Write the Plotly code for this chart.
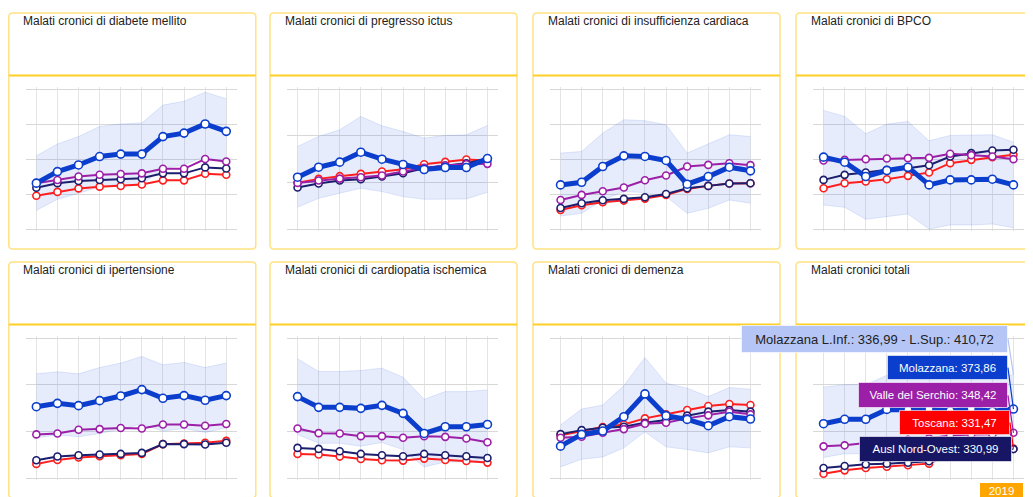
import plotly.graph_objects as go

# the page body keeps its default 8px margin, so the figure starts at (8, 8)
OX, OY = 8, 8
W, H = 1025, 489

years = [2010, 2011, 2012, 2013, 2014, 2015, 2016, 2017, 2018, 2019]

titles = [
    "Malati cronici di diabete mellito",
    "Malati cronici di pregresso ictus",
    "Malati cronici di insufficienza cardiaca",
    "Malati cronici di BPCO",
    "Malati cronici di ipertensione",
    "Malati cronici di cardiopatia ischemica",
    "Malati cronici di demenza",
    "Malati cronici totali",
]

series_names = ["Molazzana", "Valle del Serchio", "Toscana", "Ausl Nord-Ovest"]

# diabete mellito
diab_mol = [53.1, 56.4, 58.3, 60.7, 61.4, 61.4, 66.4, 67.4, 70.0, 67.9]
diab_vds = [53.1, 54.0, 55.0, 55.5, 55.7, 55.9, 57.2, 57.2, 60.0, 59.3]
diab_tos = [49.5, 50.6, 51.6, 52.1, 52.3, 52.7, 53.9, 53.9, 55.8, 55.5]
diab_ausl = [51.8, 53.1, 53.7, 54.0, 54.2, 54.5, 55.9, 55.9, 57.6, 57.3]
diab_inf = [45.3, 48.5, 50.2, 52.1, 52.8, 52.5, 57.5, 58.3, 60.8, 58.5]
diab_sup = [60.9, 64.3, 66.4, 69.3, 70.0, 70.3, 75.4, 76.5, 79.1, 77.2]

# pregresso ictus
ictus_mol = [15.55, 16.62, 17.16, 18.23, 17.48, 16.91, 16.37, 16.59, 16.59, 17.55]
ictus_vds = [14.94, 15.19, 15.40, 15.55, 15.73, 16.16, 16.55, 16.80, 16.94, 16.98]
ictus_tos = [14.97, 15.37, 15.66, 15.91, 16.16, 16.41, 16.94, 17.19, 17.45, 17.34]
ictus_ausl = [14.44, 14.87, 15.19, 15.33, 15.62, 15.98, 16.51, 16.80, 17.05, 17.52]
ictus_inf = [12.33, 13.29, 13.83, 14.37, 14.01, 13.47, 13.18, 13.18, 13.22, 13.94]
ictus_sup = [18.84, 19.92, 20.63, 22.06, 21.06, 20.45, 19.74, 20.02, 20.09, 21.10]

# insufficienza cardiaca
insuf_mol = [16.30, 16.68, 18.93, 20.45, 20.36, 19.79, 16.40, 17.49, 18.83, 18.31]
insuf_vds = [14.15, 14.87, 15.39, 15.92, 16.97, 17.64, 18.93, 19.16, 19.40, 19.12]
insuf_tos = [12.72, 13.39, 13.82, 14.06, 14.34, 14.87, 15.73, 16.16, 16.49, 16.54]
insuf_ausl = [13.01, 13.68, 14.11, 14.30, 14.53, 15.01, 15.82, 16.16, 16.49, 16.54]
insuf_inf = [11.86, 12.24, 14.15, 15.35, 15.20, 14.63, 12.24, 12.96, 14.15, 13.68]
insuf_sup = [20.84, 21.07, 23.70, 25.61, 25.47, 24.89, 20.84, 22.12, 23.46, 23.22]

# BPCO
bpco_mol = [40.53, 39.09, 34.99, 36.71, 37.66, 32.60, 34.03, 34.03, 34.22, 32.60]
bpco_vds = [39.57, 39.76, 39.95, 40.14, 40.24, 40.33, 41.48, 41.10, 40.72, 39.95]
bpco_tos = [31.65, 33.08, 33.56, 34.22, 35.18, 36.13, 38.81, 39.76, 40.53, 41.19]
bpco_ausl = [34.03, 35.47, 36.13, 36.90, 37.37, 38.23, 40.72, 41.67, 42.43, 42.63]
bpco_inf = [26.87, 26.21, 22.77, 23.53, 24.30, 20.00, 21.15, 21.15, 21.43, 20.38]
bpco_sup = [53.89, 52.17, 47.21, 49.98, 50.74, 45.20, 46.73, 46.92, 46.92, 44.82]

# ipertensione
iper_mol = [226.4, 230.0, 227.5, 232.9, 237.9, 244.7, 235.4, 238.3, 233.3, 238.3]
iper_vds = [196.7, 197.7, 201.7, 202.4, 203.5, 203.1, 207.4, 207.4, 206.0, 207.8]
iper_tos = [165.1, 169.4, 171.9, 173.3, 174.4, 175.8, 186.3, 187.0, 187.7, 189.8]
iper_ausl = [169.0, 173.0, 174.4, 175.1, 175.8, 176.9, 186.3, 186.3, 185.9, 187.7]
iper_inf = [193.1, 196.1, 194.2, 197.7, 202.4, 207.8, 200.3, 203.1, 198.8, 203.8]
iper_sup = [261.6, 263.8, 261.6, 268.4, 273.1, 280.3, 271.3, 273.8, 268.4, 273.1]

# cardiopatia ischemica
card_mol = [37.44, 35.14, 35.14, 34.92, 35.57, 33.85, 29.54, 30.98, 30.98, 31.48]
card_vds = [30.62, 29.61, 29.54, 28.97, 28.97, 28.61, 28.97, 28.82, 28.46, 27.67]
card_tos = [25.16, 25.02, 24.59, 24.08, 23.80, 23.73, 24.16, 23.87, 23.65, 23.30]
card_ausl = [26.45, 26.24, 25.74, 25.16, 24.87, 24.66, 25.16, 24.87, 24.66, 24.30]
card_inf = [29.33, 27.46, 27.46, 26.81, 27.60, 26.09, 22.36, 23.44, 23.44, 24.08]
card_sup = [45.55, 42.82, 42.82, 43.04, 43.54, 41.60, 36.86, 38.51, 38.51, 38.87]

# demenza
dem_mol = [8.41, 9.67, 10.03, 11.57, 14.01, 11.68, 11.28, 10.60, 11.57, 11.32]
dem_vds = [9.31, 9.42, 9.85, 10.24, 10.81, 10.92, 11.39, 11.71, 12.11, 11.82]
dem_tos = [9.59, 10.06, 10.46, 10.74, 11.39, 11.82, 12.29, 12.72, 12.93, 12.82]
dem_ausl = [9.70, 10.13, 10.38, 10.49, 10.92, 11.21, 11.68, 12.11, 12.29, 12.11]
dem_inf = [6.19, 7.01, 7.26, 8.23, 9.95, 8.34, 8.05, 7.69, 8.34, 8.23]
dem_sup = [10.67, 12.39, 12.82, 14.90, 17.92, 15.16, 14.62, 13.72, 14.69, 14.51]

# totali
tot_mol = [358.2, 362.9, 362.9, 373.5, 373.0, 373.8, 372.0, 374.5, 371.5, 373.86]
tot_vds = [333.9, 335.0, 337.5, 339.5, 341.0, 342.5, 345.5, 346.5, 347.0, 348.42]
tot_tos = [304.6, 308.2, 310.7, 312.1, 313.6, 315.4, 325.0, 326.5, 328.5, 331.47]
tot_ausl = [310.7, 312.9, 314.6, 315.4, 316.4, 317.9, 325.5, 326.5, 327.5, 330.99]
tot_inf = [322.0, 326.0, 326.0, 337.0, 336.0, 337.0, 335.0, 338.0, 335.0, 336.99]
tot_sup = [397.5, 400.0, 400.0, 410.0, 410.0, 411.0, 409.0, 411.0, 408.0, 410.72]

panels = [
    (diab_mol, diab_vds, diab_tos, diab_ausl, diab_inf, diab_sup),
    (ictus_mol, ictus_vds, ictus_tos, ictus_ausl, ictus_inf, ictus_sup),
    (insuf_mol, insuf_vds, insuf_tos, insuf_ausl, insuf_inf, insuf_sup),
    (bpco_mol, bpco_vds, bpco_tos, bpco_ausl, bpco_inf, bpco_sup),
    (iper_mol, iper_vds, iper_tos, iper_ausl, iper_inf, iper_sup),
    (card_mol, card_vds, card_tos, card_ausl, card_inf, card_sup),
    (dem_mol, dem_vds, dem_tos, dem_ausl, dem_inf, dem_sup),
    (tot_mol, tot_vds, tot_tos, tot_ausl, tot_inf, tot_sup),
]

# y scale of each panel: (min, max, gridline step)
y_scales = [(40, 80, 10), (10, 25, 5), (10, 30, 5), (20, 60, 10),
            (150, 300, 50), (20, 50, 10), (5, 20, 5), (300, 450, 50)]

C_MOL = "#0b3ecc"
C_VDS = "#9c1fa8"
C_TOS = "#ff1e1e"
C_AUSL = "#1c1e6e"

# page coordinates of the cards
col_left = [8.8, 270, 533, 796]
row_top = [13, 262]
CARD_W, CARD_H = 247, 236
PLOT_TOP, PLOT_BOT = 76, 216   # gridline extents inside a card
PAD = 2                        # keeps edge gridlines inside the plot area


def px(x):
    return (x - OX) / W


def py(y):
    return 1 - (y - OY) / H


def rounded_rect(x0, y0, x1, y1, r=4):
    pts = [
        f"M{px(x0 + r)},{py(y0)}", f"L{px(x1 - r)},{py(y0)}",
        f"Q{px(x1)},{py(y0)} {px(x1)},{py(y0 + r)}", f"L{px(x1)},{py(y1 - r)}",
        f"Q{px(x1)},{py(y1)} {px(x1 - r)},{py(y1)}", f"L{px(x0 + r)},{py(y1)}",
        f"Q{px(x0)},{py(y1)} {px(x0)},{py(y1 - r)}", f"L{px(x0)},{py(y0 + r)}",
        f"Q{px(x0)},{py(y0)} {px(x0 + r)},{py(y0)}", "Z",
    ]
    return " ".join(pts)


fig = go.Figure()
shapes = []
annotations = []
layout_axes = {}

for i, (mol, vds, tos, ausl, inf, sup) in enumerate(panels):
    n = i + 1
    row, col = divmod(i, 4)
    left = col_left[col]
    top = row_top[row]
    xa = "x" if n == 1 else f"x{n}"
    ya = "y" if n == 1 else f"y{n}"

    # card
    shapes.append(dict(type="path", xref="paper", yref="paper", layer="below",
                       path=rounded_rect(left, top, left + CARD_W, top + CARD_H),
                       line=dict(color="#ffe283", width=1.5)))
    shapes.append(dict(type="line", xref="paper", yref="paper", layer="below",
                       x0=px(left), x1=px(left + CARD_W), y0=py(top + 62.5), y1=py(top + 62.5),
                       line=dict(color="#ffcf26", width=2)))
    annotations.append(dict(text=titles[i], xref="paper", yref="paper",
                            x=px(left + 12.5), y=py(top + 8), xanchor="left", yanchor="middle",
                            showarrow=False, font=dict(size=12, color="#222222")))

    # confidence band
    fig.add_trace(go.Scatter(x=years, y=inf, mode="lines", xaxis=xa, yaxis=ya,
                             line=dict(color="rgba(65,105,225,0.15)", width=1),
                             name=series_names[0] + " L.Inf.", hoverinfo="skip"))
    fig.add_trace(go.Scatter(x=years, y=sup, mode="lines", xaxis=xa, yaxis=ya,
                             fill="tonexty", fillcolor="rgba(65,105,225,0.13)",
                             line=dict(color="rgba(65,105,225,0.15)", width=1),
                             name=series_names[0] + " L.Sup.", hoverinfo="skip"))

    for vals, color, name, lw, ms in [(tos, C_TOS, series_names[2], 2, 7),
                                      (ausl, C_AUSL, series_names[3], 2, 7),
                                      (vds, C_VDS, series_names[1], 2, 7),
                                      (mol, C_MOL, series_names[0], 5, 8)]:
        fig.add_trace(go.Scatter(x=years, y=vals, mode="lines+markers", xaxis=xa, yaxis=ya,
                                 name=name, line=dict(color=color, width=lw),
                                 marker=dict(size=ms, color="white",
                                             line=dict(color=color, width=1.6))))

    lo, hi, step = y_scales[i]
    extra = (hi - lo) * PAD / (PLOT_BOT - PLOT_TOP)
    layout_axes["xaxis" if n == 1 else f"xaxis{n}"] = dict(
        domain=[px(left + 17), px(left + 228)], anchor=ya,
        range=[2009.5, 2019.5], tickmode="array", tickvals=years,
        showticklabels=False, ticks="", showgrid=True, gridcolor="#e4e4e4",
        zeroline=False, showline=False, fixedrange=True)
    layout_axes["yaxis" if n == 1 else f"yaxis{n}"] = dict(
        domain=[py(top + PLOT_BOT + PAD), py(top + PLOT_TOP - PAD)], anchor=xa,
        range=[lo - extra, hi + extra], tickmode="linear", tick0=lo, dtick=step,
        showticklabels=False, ticks="", showgrid=True, gridcolor="#d8d8d8",
        zeroline=False, showline=False, fixedrange=True)


def fmt(v):
    return f"{v:.2f}".replace(".", ",")


# hover-style labels on the last year of the "totali" panel
hover = [
    (tot_sup[-1], f"{series_names[0]} L.Inf.: {fmt(tot_inf[-1])} - L.Sup.: {fmt(tot_sup[-1])}",
     "#b5c6f6", "#222222", 13, 263, 24, -5.5, -36),
    (tot_mol[-1], f"{series_names[0]}: {fmt(tot_mol[-1])}", C_MOL, "white", 11.5, 117, 21, -5.5, -41.5),
    (tot_vds[-1], f"{series_names[1]}: {fmt(tot_vds[-1])}", C_VDS, "white", 11.5, 146, 22, -5.5, -37.5),
    (tot_tos[-1], f"{series_names[2]}: {fmt(tot_tos[-1])}", "#ff0000", "white", 11.5, 107, 21, -3.5, -26),
    (tot_ausl[-1], f"{series_names[3]}: {fmt(tot_ausl[-1])}", "#161665", "white", 11.5, 149, 22, -1.5, 0),
]
for yv, txt, bg, fc, fs, w, h, ax, ay in hover:
    annotations.append(dict(xref="x8", yref="y8", x=years[-1], y=yv, text=txt,
                            showarrow=True, arrowhead=0, arrowwidth=1.2, arrowcolor=bg,
                            ax=ax, ay=ay, xanchor="right", yanchor="middle",
                            width=w, height=h, bgcolor=bg, bordercolor="rgba(255,255,255,0.6)",
                            borderwidth=1, font=dict(size=fs, color=fc,
                                                     family="Liberation Sans, Arial")))

annotations.append(dict(xref="x8", yref="paper", x=years[-1], y=py(482.5), text=str(years[-1]),
                        showarrow=False, xanchor="center", yanchor="top", xshift=-11.5,
                        width=41, height=13, bgcolor="#ffa500", borderwidth=0,
                        font=dict(size=11.5, color="white", family="Liberation Sans, Arial")))

fig.update_layout(
    width=W, height=H,
    margin=dict(l=0, r=0, t=0, b=0),
    paper_bgcolor="white", plot_bgcolor="rgba(0,0,0,0)",
    showlegend=False, hovermode="x",
    font=dict(family="Liberation Sans, Arial, sans-serif"),
    shapes=shapes, annotations=annotations,
    **layout_axes,
)

fig.write_html("out.html")
